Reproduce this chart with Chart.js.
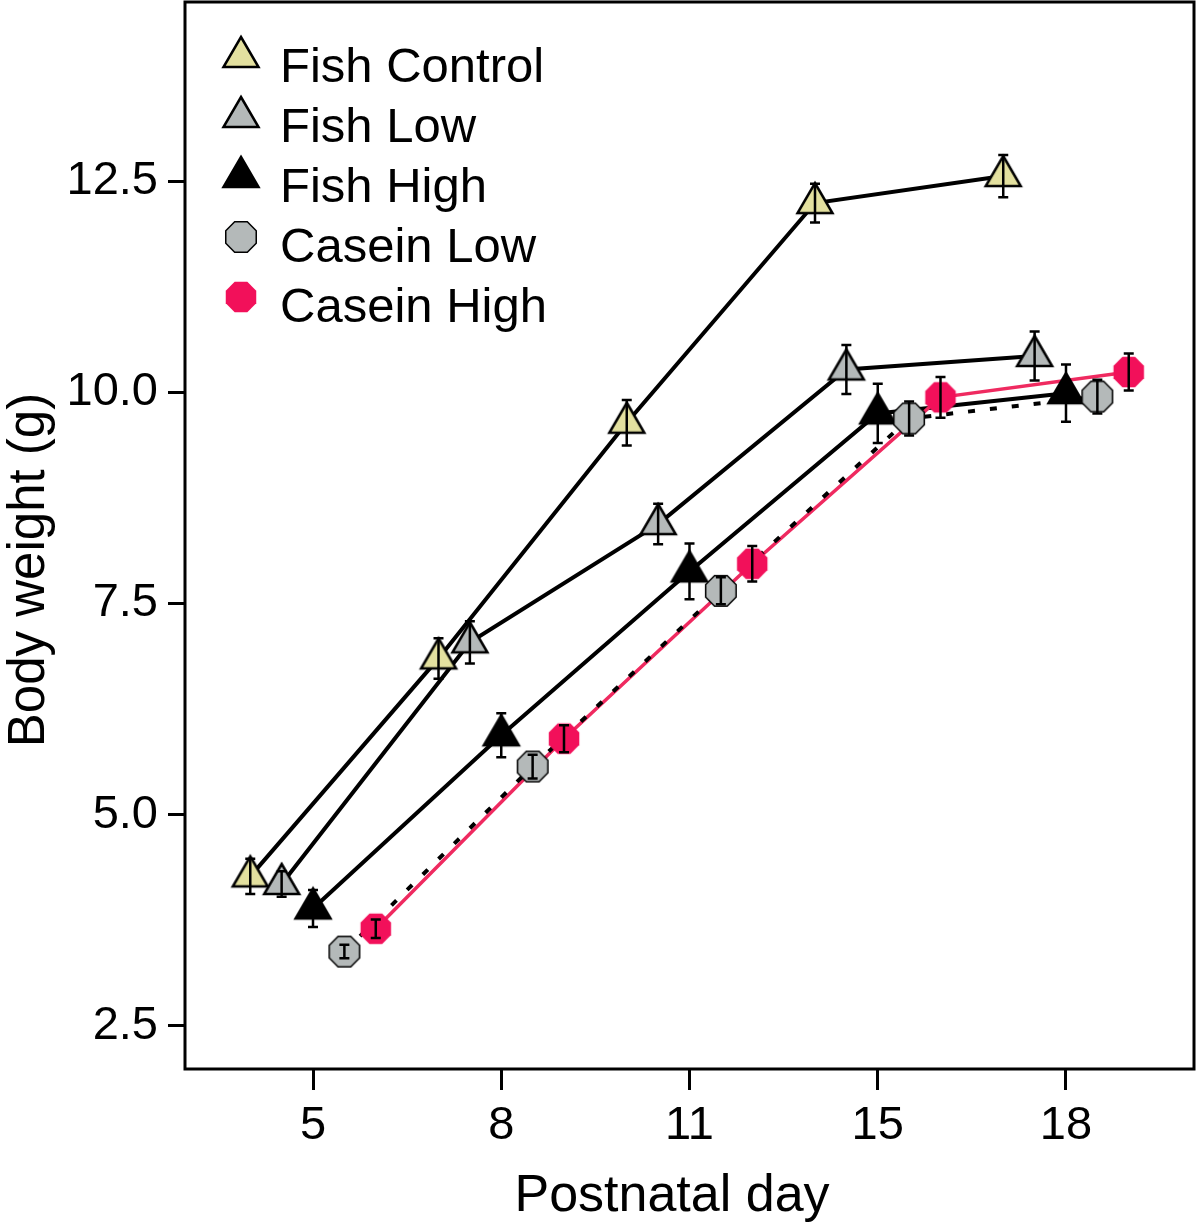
<!DOCTYPE html>
<html>
<head>
<meta charset="utf-8">
<script src="https://cdn.jsdelivr.net/npm/chart.js@4/dist/chart.umd.min.js"></script>
<style>
  html, body { margin: 0; padding: 0; background: #fff; }
</style>
</head>
<body>
<canvas id="chart" width="1200" height="1225"></canvas>
<script>
// postnatal days (categories on the x axis)
const dayLabels = ['5', '8', '11', '15', '18'];
const seriesNames = ['Fish Control', 'Fish Low', 'Fish High', 'Casein Low', 'Casein High'];

// body weight (g), mean and error
const fishControl = [4.27, 6.85, 9.64, 12.24, 12.56];
const fishControlErr = [0.21, 0.24, 0.27, 0.23, 0.25];
const fishLow = [4.18, 7.04, 8.44, 10.27, 10.43];
const fishLowErr = [0.15, 0.25, 0.24, 0.29, 0.29];
const fishHigh = [3.89, 5.94, 7.88, 9.75, 9.99];
const fishHighErr = [0.22, 0.26, 0.33, 0.35, 0.34];
const caseinLow = [3.38, 5.57, 7.65, 9.69, 9.95];
const caseinLowErr = [0.08, 0.14, 0.16, 0.2, 0.2];
const caseinHigh = [3.65, 5.90, 7.97, 9.94, 10.24];
const caseinHighErr = [0.11, 0.16, 0.21, 0.24, 0.22];

const yTicks = [2.5, 5.0, 7.5, 10.0, 12.5];

const seriesValues = [fishControl, fishLow, fishHigh, caseinLow, caseinHigh];
const seriesErrs = [fishControlErr, fishLowErr, fishHighErr, caseinLowErr, caseinHighErr];
const dodge = [-2 / 6, -1 / 6, 0, 1 / 6, 2 / 6];

const FONT = '"Liberation Sans", Arial, sans-serif';

// marker images
function triangleMarker(fill) {
    const c = document.createElement('canvas');
    c.width = 48; c.height = 48;
    const g = c.getContext('2d');
    g.beginPath();
    g.moveTo(24, 4);
    g.lineTo(41.5, 34);
    g.lineTo(6.5, 34);
    g.closePath();
    g.fillStyle = fill;
    g.fill();
    g.lineWidth = 2.5;
    g.strokeStyle = '#000';
    g.stroke();
    return c;
}

function octagonMarker(fill, stroke) {
    const c = document.createElement('canvas');
    c.width = 40; c.height = 40;
    const g = c.getContext('2d');
    g.beginPath();
    for (let k = 0; k < 8; k++) {
        const a = Math.PI / 8 + k * Math.PI / 4;
        const px = 20 + 16.5 * Math.cos(a);
        const py = 20 + 16.5 * Math.sin(a);
        if (k === 0) g.moveTo(px, py); else g.lineTo(px, py);
    }
    g.closePath();
    g.fillStyle = fill;
    g.fill();
    if (stroke) {
        g.lineWidth = 1.5;
        g.strokeStyle = stroke;
        g.stroke();
    }
    return c;
}

const markers = [
    triangleMarker('#e3e09f'),
    triangleMarker('#b4b9b9'),
    triangleMarker('#000000'),
    octagonMarker('#b4b9b9', '#000'),
    octagonMarker('#f2105a', null)
];

const lineColors = ['#000', '#000', '#000', '#000', '#ef2a60'];
const lineWidths = [4, 4, 4, 4, 3.5];
const lineDash = [[], [], [], [7, 15], []];
const lineOrder = [12, 13, 14, 10, 11];
const pointOrder = [4, 3, 2, 1, 0];

const datasets = [];
seriesValues.forEach((vals, s) => {
    const pts = vals.map((v, i) => ({ x: i + dodge[s], y: v }));
    datasets.push({
        label: seriesNames[s] + ' line',
        data: pts,
        showLine: true,
        borderColor: lineColors[s],
        borderWidth: lineWidths[s],
        borderDash: lineDash[s],
        pointRadius: 0,
        fill: false,
        order: lineOrder[s]
    });
    datasets.push({
        label: seriesNames[s],
        data: pts,
        showLine: false,
        pointStyle: markers[s],
        pointRadius: 18,
        order: pointOrder[s]
    });
});

const frame = {
    id: 'frame',
    beforeDatasetsDraw(chart) {
        const a = chart.chartArea;
        const ctx = chart.ctx;
        ctx.save();
        ctx.strokeStyle = '#000';
        ctx.lineWidth = 3;
        ctx.strokeRect(a.left, a.top, a.right - a.left, a.bottom - a.top);
        ctx.restore();
    }
};

const errorBars = {
    id: 'errorBars',
    afterDatasetsDraw(chart) {
        const ctx = chart.ctx;
        const xs = chart.scales.x, ys = chart.scales.y;
        ctx.save();
        ctx.strokeStyle = '#000';
        ctx.lineWidth = 2.5;
        seriesValues.forEach((vals, s) => {
            vals.forEach((v, i) => {
                const e = seriesErrs[s][i];
                const x = xs.getPixelForValue(i + dodge[s]);
                const y1 = ys.getPixelForValue(v + e);
                const y2 = ys.getPixelForValue(v - e);
                ctx.beginPath();
                ctx.moveTo(x, y1); ctx.lineTo(x, y2);
                ctx.moveTo(x - 5, y1); ctx.lineTo(x + 5, y1);
                ctx.moveTo(x - 5, y2); ctx.lineTo(x + 5, y2);
                ctx.stroke();
            });
        });
        ctx.restore();
    }
};

// axis titles sit a little off the plot centre in the original
const axisTitles = {
    id: 'axisTitles',
    afterDraw(chart) {
        const ctx = chart.ctx;
        ctx.save();
        ctx.fillStyle = '#000';
        ctx.font = '52px ' + FONT;
        ctx.textAlign = 'center';
        ctx.textBaseline = 'alphabetic';
        ctx.fillText('Postnatal day', 672, 1211);
        ctx.translate(30, 570);
        ctx.rotate(-Math.PI / 2);
        ctx.font = '51px ' + FONT;
        ctx.textBaseline = 'middle';
        ctx.fillText('Body weight (g)', 0, 0);
        ctx.restore();
    }
};

const legendBox = {
    id: 'legendBox',
    afterDraw(chart) {
        const ctx = chart.ctx;
        const a = chart.chartArea;
        ctx.save();
        ctx.font = '49px ' + FONT;
        ctx.fillStyle = '#000';
        ctx.textBaseline = 'alphabetic';
        ctx.textAlign = 'left';
        seriesNames.forEach((name, i) => {
            const base = a.top + 80 + i * 60;
            const m = markers[i];
            ctx.drawImage(m, 241 - m.width / 2, base - 25 - m.height / 2);
            ctx.fillText(name, 280, base);
        });
        ctx.restore();
    }
};

new Chart(document.getElementById('chart'), {
    type: 'scatter',
    data: { datasets: datasets },
    plugins: [frame, errorBars, axisTitles, legendBox],
    options: {
        responsive: false,
        animation: false,
        devicePixelRatio: 1,
        layout: { autoPadding: false, padding: { top: 2, right: 6, left: 0, bottom: 0 } },
        plugins: {
            legend: { display: false },
            tooltip: { enabled: false }
        },
        scales: {
            x: {
                type: 'linear',
                min: -0.68,
                max: 4.68,
                afterBuildTicks: s => { s.ticks = dayLabels.map((d, i) => ({ value: i })); },
                afterFit: s => { s.height = 156; s.paddingLeft = 0; s.paddingRight = 0; },
                ticks: {
                    callback: v => dayLabels[Math.round(v)],
                    color: '#000',
                    font: { family: FONT, size: 47 },
                    padding: 8,
                    maxRotation: 0,
                    autoSkip: false
                },
                grid: { drawOnChartArea: false, drawTicks: true, tickLength: 21, tickWidth: 3, tickColor: '#000' },
                border: { display: false }
            },
            y: {
                min: 1.99,
                max: 14.62,
                afterBuildTicks: s => { s.ticks = yTicks.map(v => ({ value: v })); },
                afterFit: s => { s.width = 185; s.paddingTop = 0; s.paddingBottom = 0; },
                ticks: {
                    callback: v => v.toFixed(1),
                    color: '#000',
                    font: { family: FONT, size: 47 },
                    padding: 10,
                    autoSkip: false
                },
                grid: { drawOnChartArea: false, drawTicks: true, tickLength: 17, tickWidth: 3, tickColor: '#000' },
                border: { display: false }
            }
        }
    }
});
</script>
</body>
</html>
